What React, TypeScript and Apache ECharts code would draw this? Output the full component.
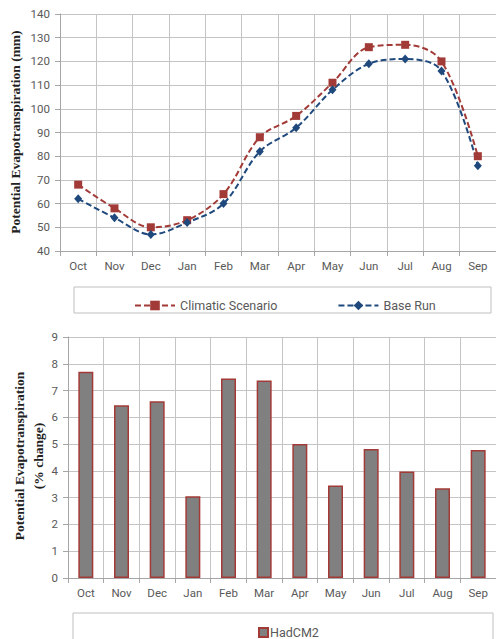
import React, { useEffect, useRef } from "react";
import * as echarts from "echarts";

const months = ["Oct", "Nov", "Dec", "Jan", "Feb", "Mar", "Apr", "May", "Jun", "Jul", "Aug", "Sep"];
const climaticScenario = [68, 58, 50, 53, 64, 88, 97, 111, 126, 127, 120, 80];
const baseRun = [62, 54, 47, 52, 60, 82, 92, 108, 119, 121, 116, 76];
const hadCM2 = [7.7, 6.45, 6.6, 3.05, 7.45, 7.38, 5.0, 3.45, 4.82, 3.98, 3.35, 4.78];

const RED = "#A23B37";
const BLUE = "#1F497D";
const TEXT = "#595959";
const GRIDC = "#C4C4C4";
const SANS = "Roboto";
const SERIF = "Liberation Serif";

export default function App() {
  const ref = useRef<HTMLDivElement>(null);
  useEffect(() => {
    if (!ref.current) return;
    const chart = echarts.init(ref.current, undefined, { renderer: "svg" });
    const catAxis = (gridIndex: number) => ({
      type: "category",
      gridIndex,
      data: months,
      boundaryGap: true,
      axisLine: { lineStyle: { color: "#A6A6A6" } },
      axisTick: { show: true, length: 5, lineStyle: { color: "#A6A6A6" } },
      splitLine: { show: true, lineStyle: { color: GRIDC } },
      axisLabel: { color: TEXT, fontFamily: SANS, fontSize: 11.5, margin: 9 },
    });
    const valAxis = (gridIndex: number, min: number, max: number, interval: number) => ({
      type: "value",
      gridIndex,
      min,
      max,
      interval,
      axisLine: { show: true, lineStyle: { color: "#A6A6A6" } },
      axisTick: { show: true, length: 5, lineStyle: { color: "#A6A6A6" } },
      splitLine: { show: true, lineStyle: { color: GRIDC } },
      axisLabel: { color: TEXT, fontFamily: SANS, fontSize: 11.5, margin: 10 },
    });
    chart.setOption({
      animation: false,
      backgroundColor: "#ffffff",
      grid: [
        { left: 60, top: 14, width: 436, height: 237 },
        { left: 68, top: 337, width: 428, height: 241 },
      ],
      xAxis: [catAxis(0), catAxis(1)],
      yAxis: [valAxis(0, 40, 140, 10), valAxis(1, 0, 9, 1)],
      legend: [
        {
          left: 129,
          top: 294,
          itemWidth: 40,
          itemHeight: 12,
          itemGap: 60,
          textStyle: { color: TEXT, fontFamily: SANS, fontSize: 12.5 },
          data: ["Climatic Scenario", "Base Run"],
        },
        {
          left: 253,
          top: 621,
          itemWidth: 9,
          itemHeight: 9,
          itemGap: 2,
          textStyle: { color: TEXT, fontFamily: SANS, fontSize: 12.5, padding: [0, 0, 0, -3] },
          data: [{ name: "HadCM2", icon: "rect" }],
        },
      ],
      graphic: [
        {
          type: "rect",
          shape: { x: 74, y: 287, width: 417, height: 26 },
          style: { fill: "none", stroke: "#BFBFBF", lineWidth: 1 },
          z: -1,
        },
        {
          type: "rect",
          shape: { x: 73, y: 613, width: 420, height: 40 },
          style: { fill: "none", stroke: "#BFBFBF", lineWidth: 1 },
          z: -1,
        },
        {
          type: "text",
          x: 15,
          y: 132,
          rotation: Math.PI / 2,
          style: {
            text: "Potential Evapotranspiration (mm)",
            fontFamily: SERIF,
            fontWeight: "bold",
            fontSize: 13.5,
            fill: "#222",
            align: "center",
            verticalAlign: "middle",
          },
        },
        {
          type: "text",
          x: 19,
          y: 456,
          rotation: Math.PI / 2,
          style: {
            text: "Potential Evapotranspiration",
            fontFamily: SERIF,
            fontWeight: "bold",
            fontSize: 13.5,
            fill: "#222",
            align: "center",
            verticalAlign: "middle",
          },
        },
        {
          type: "text",
          x: 38,
          y: 456,
          rotation: Math.PI / 2,
          style: {
            text: "(% change)",
            fontFamily: SERIF,
            fontWeight: "bold",
            fontSize: 13.5,
            fill: "#222",
            align: "center",
            verticalAlign: "middle",
          },
        },
      ],
      series: [
        {
          name: "Climatic Scenario",
          type: "line",
          xAxisIndex: 0,
          yAxisIndex: 0,
          data: climaticScenario,
          smooth: 0.35,
          symbol: "rect",
          symbolSize: 8,
          itemStyle: { color: RED },
          lineStyle: { color: RED, width: 2, type: [6, 3] },
        },
        {
          name: "Base Run",
          type: "line",
          xAxisIndex: 0,
          yAxisIndex: 0,
          data: baseRun,
          smooth: 0.35,
          symbol: "diamond",
          symbolSize: [8, 9],
          itemStyle: { color: BLUE },
          lineStyle: { color: BLUE, width: 2, type: [6, 3] },
        },
        {
          name: "HadCM2",
          type: "bar",
          xAxisIndex: 1,
          yAxisIndex: 1,
          data: hadCM2,
          barWidth: 15,
          itemStyle: { color: "#808080", borderColor: "#A23B37", borderWidth: 1.5 },
        },
      ],
    });
    return () => chart.dispose();
  }, []);
  return (
    <div
      ref={ref}
      style={{ position: "fixed", left: 0, top: 0, width: 496, height: 639, background: "#fff" }}
    />
  );
}
